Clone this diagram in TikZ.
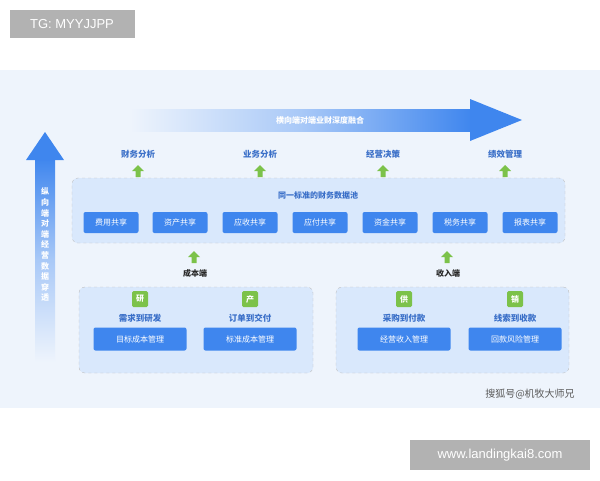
\documentclass[tikz,border=0pt]{standalone}
\usepackage{fontspec}
\newfontfamily\cjk{Noto Sans CJK SC}
\newfontfamily\lib{Liberation Sans}
\definecolor{bb}{HTML}{3F86EE}
\definecolor{bt}{HTML}{3A6FC8}
\definecolor{pool}{HTML}{D9E8FC}
\definecolor{panel}{HTML}{EEF4FC}
\definecolor{gr}{HTML}{7CC24A}
\tikzset{
 bluebox/.style={fill=bb,rounded corners=2pt,text=white,minimum height=21pt,font=\cjk\fontsize{8}{9}\selectfont,inner sep=0pt},
 lbl/.style={text=bt,font=\cjk\bfseries\fontsize{8.5}{10}\selectfont},
 blk/.style={text=black!85,font=\cjk\bfseries\fontsize{8}{10}\selectfont},
 poolbox/.style={draw=gray!50,dashed,fill=pool,rounded corners=6pt},
 gsq/.style={fill=gr,rounded corners=1.5pt,text=white,minimum size=16pt,inner sep=0pt,font=\cjk\bfseries\fontsize{8}{9}\selectfont},
 tag/.style={fill=gray!60,text=white,font=\lib\fontsize{13}{15}\selectfont,inner sep=0pt},
 garrow/.pic={\fill[gr] (-6,0) -- (0,-6) -- (6,0) -- (2.5,0) -- (2.5,6) -- (-2.5,6) -- (-2.5,0) -- cycle;}
}
\begin{document}
\begin{tikzpicture}[x=1pt,y=-1pt]
\useasboundingbox (0,0) rectangle (600,480);
\fill[white] (0,0) rectangle (600,480);
\fill[panel] (0,70) rectangle (600,408);
% tags
\node[tag,minimum width=125pt,minimum height=28pt] (tg) at (72,24) {TG: MYYJJPP};
\node[tag,minimum width=180pt,minimum height=30pt] (www) at (500,455) {www.landingkai8.com};
% horizontal arrow
\shade[left color=panel,right color=bb,middle color=bb!45] (130,109) rectangle (472,131);
\fill[bb] (470,99) -- (522,120) -- (470,141) -- cycle;
\node[text=white,font=\cjk\bfseries\fontsize{8}{10}\selectfont] (ht) at (320,120) {横向端对端业财深度融合};
% vertical arrow
\shade[top color=bb,bottom color=panel,middle color=bb!45] (35,158) rectangle (55,362);
\fill[bb] (26,160) -- (45,132) -- (64,160) -- cycle;
\node[text=white,font=\cjk\bfseries\fontsize{8}{10.6}\selectfont,align=center] (vt) at (45,245) {纵\\向\\端\\对\\端\\经\\营\\数\\据\\穿\\透};
% top labels
\foreach \x/\t/\n in {138/财务分析/a,260/业务分析/b,383/经营决策/c,505/绩效管理/d}{
 \node[lbl] (l\n) at (\x,154) {\t};
 \pic at (\x,171) {garrow};
}
% pool
\node[poolbox,minimum width=493pt,minimum height=65pt] (pool) at (318.5,210.5) {};
\node[blk,text=bt] (pt) at (318,195) {同一标准的财务数据池};
\foreach \x/\t/\n in {111/费用共享/1,180/资产共享/2,250/应收共享/3,320/应付共享/4,390/资金共享/5,460/税务共享/6,530/报表共享/7}{
 \node[bluebox,minimum width=55pt] (s\n) at (\x,222.5) {\t};
}
% lower
\pic at (194,257) {garrow};
\pic at (447,257) {garrow};
\node[blk] (cb) at (195,273) {成本端};
\node[blk] (sr) at (448,273) {收入端};
\node[poolbox,minimum width=234pt,minimum height=86pt] (lb) at (196,330) {};
\node[poolbox,minimum width=233pt,minimum height=86pt] (rb) at (452.5,330) {};
\foreach \x/\c/\t/\b/\n in {140/研/需求到研发/目标成本管理/1,250/产/订单到交付/标准成本管理/2,404/供/采购到付款/经营收入管理/3,515/销/线索到收款/回款风险管理/4}{
 \node[gsq] (q\n) at (\x,299) {\c};
 \node[lbl] (t\n) at (\x,318) {\t};
 \node[bluebox,minimum width=93pt,minimum height=23pt] (m\n) at (\x,339) {\b};
}
\node[text=gray!70!black,font=\cjk\fontsize{10}{12}\selectfont] (wm) at (530,394) {搜狐号@机牧大师兄};
\end{tikzpicture}
\end{document}
